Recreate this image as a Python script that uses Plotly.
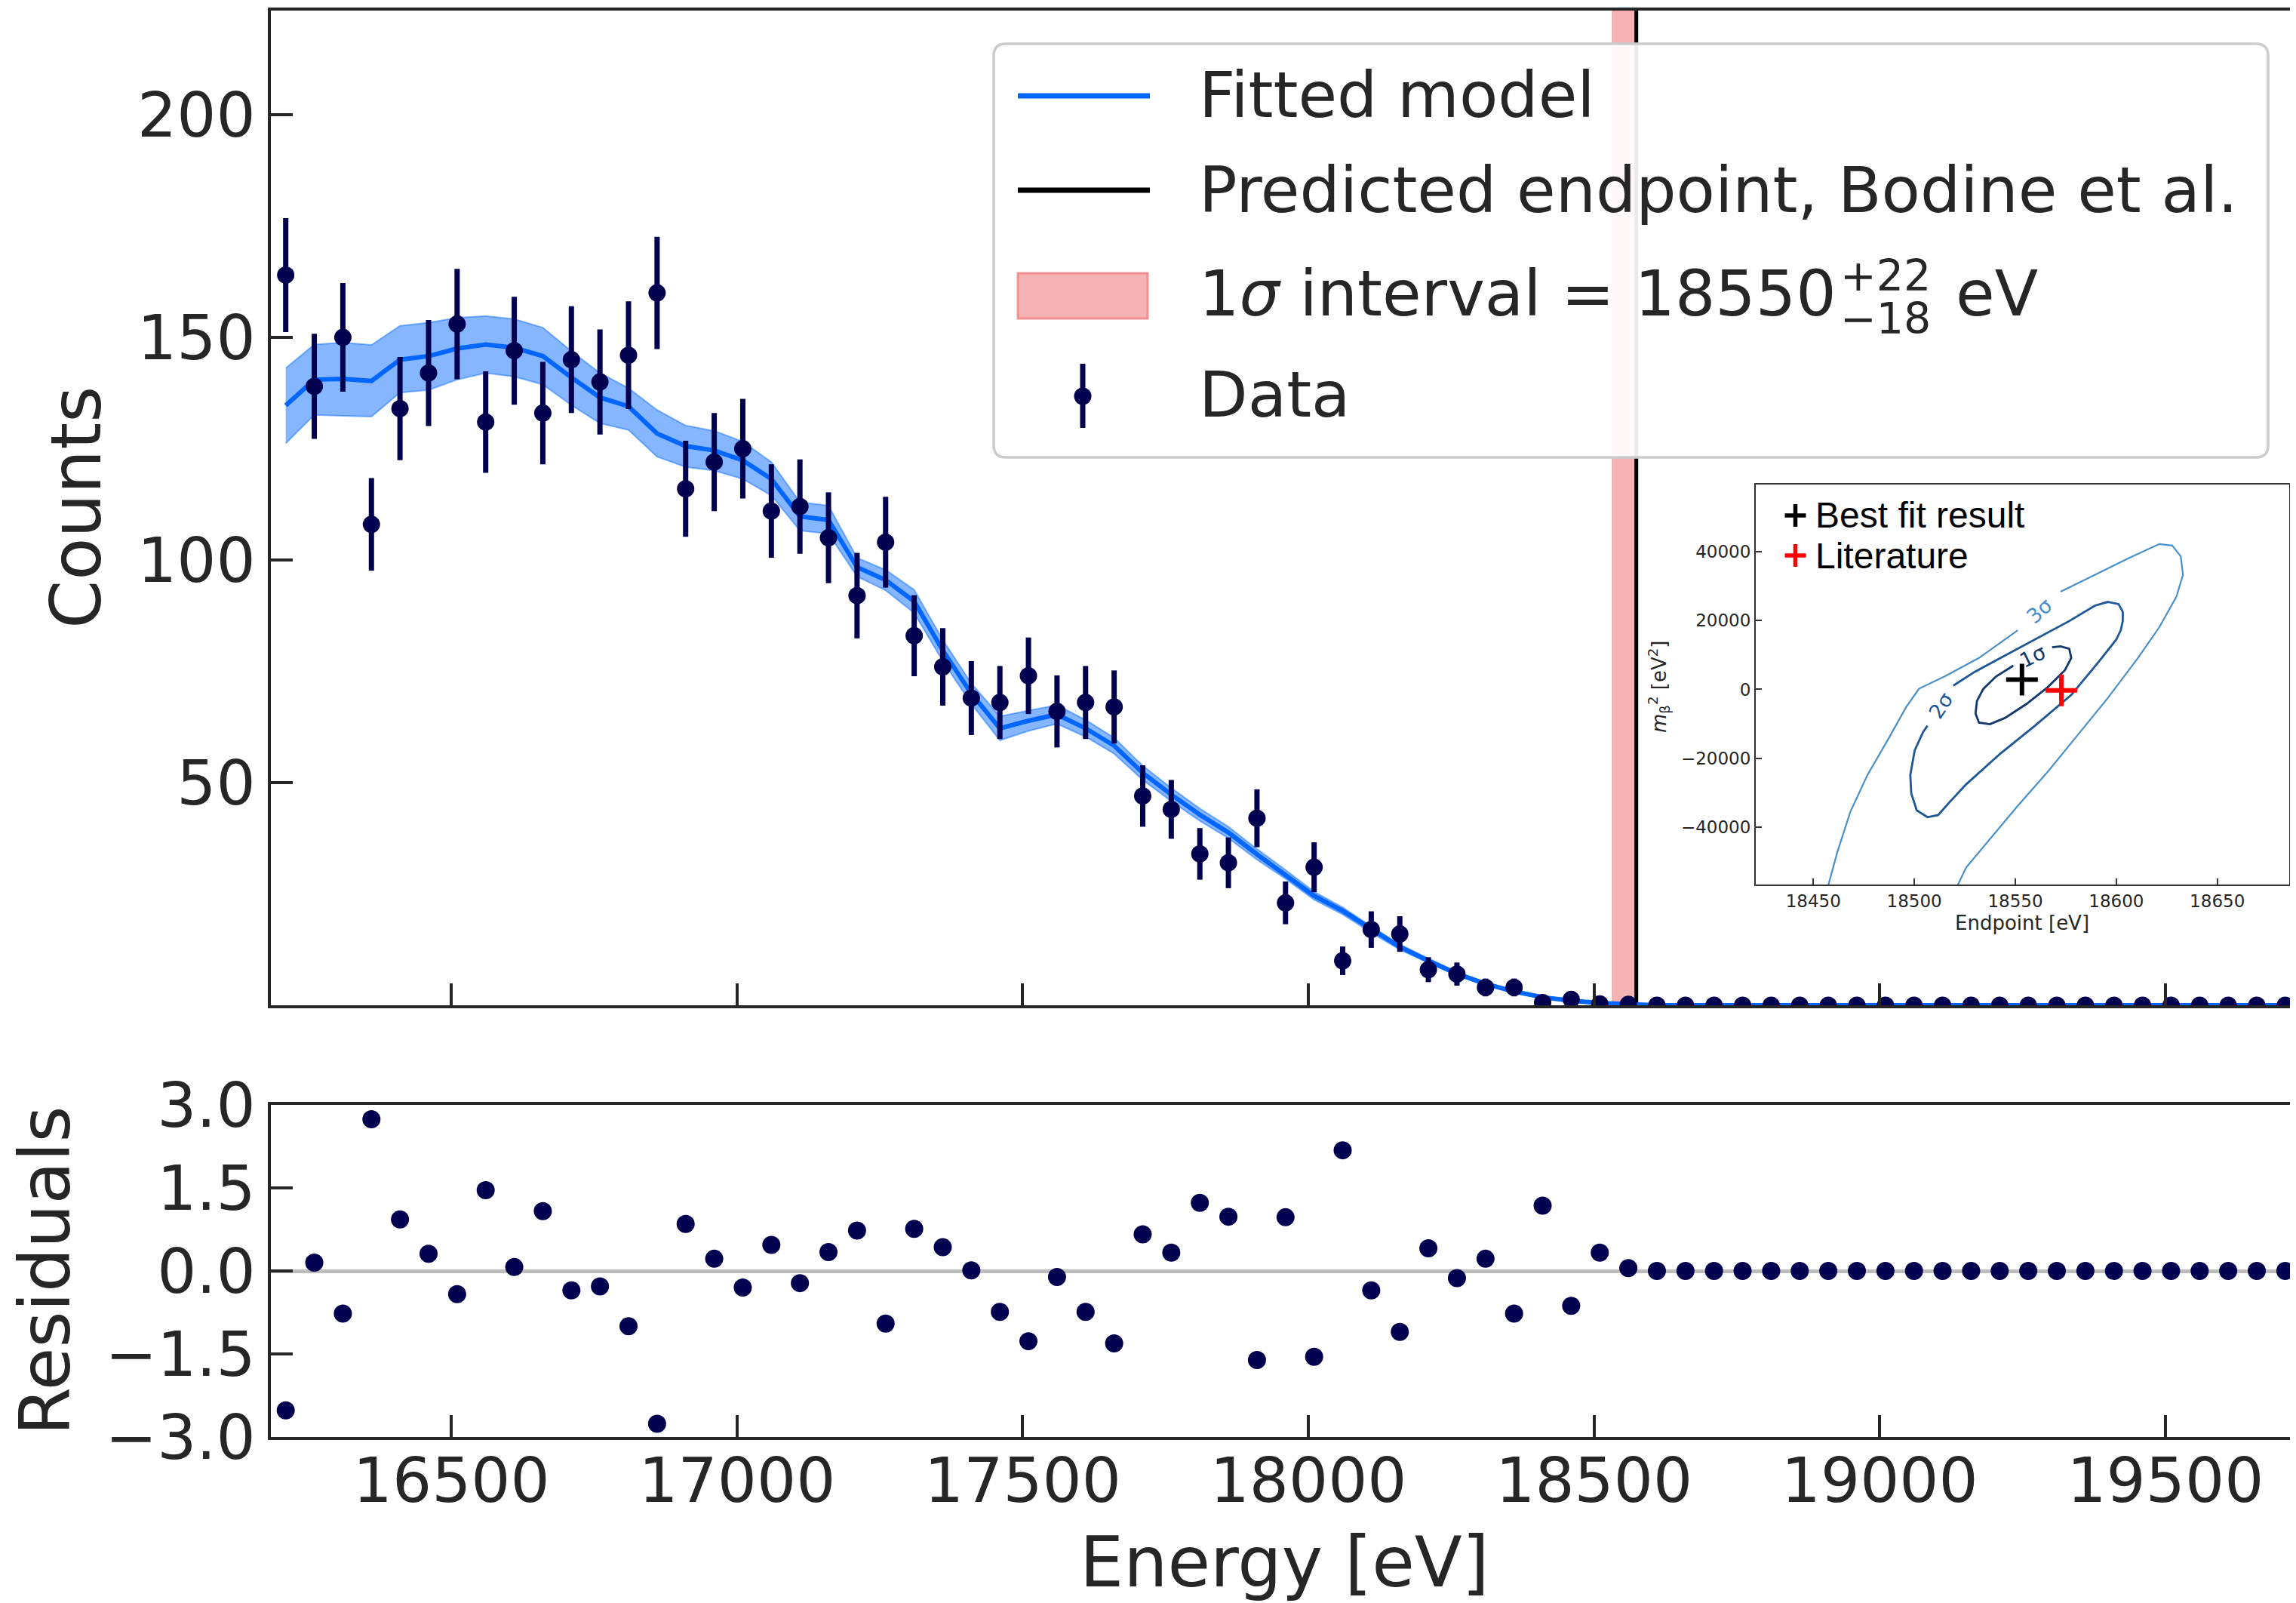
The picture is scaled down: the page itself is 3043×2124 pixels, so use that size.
import plotly.graph_objects as go

# ---------------- data ----------------
energy = [16210, 16260, 16310, 16360, 16410, 16460, 16510, 16560, 16610, 16660,
          16710, 16760, 16810, 16860, 16910, 16960, 17010, 17060, 17110, 17160,
          17210, 17260, 17310, 17360, 17410, 17460, 17510, 17560, 17610, 17660,
          17710, 17760, 17810, 17860, 17910, 17960, 18010, 18060, 18110, 18160,
          18210, 18260, 18310, 18360, 18410, 18460, 18510, 18560, 18610, 18660,
          18710, 18760, 18810, 18860, 18910, 18960, 19010, 19060, 19110, 19160,
          19210, 19260, 19310, 19360, 19410, 19460, 19510, 19560, 19610, 19660,
          19710]

counts = [164, 139, 150, 108, 134, 142, 153, 131, 147, 133,
          145, 140, 146, 160, 116, 122, 125, 111, 112, 105,
          92, 104, 83, 76, 69, 68, 74, 66, 68, 67,
          47, 44, 34, 32, 42, 23, 31, 10, 17, 16,
          8, 7, 4, 4, 0.6, 1.3, 0.3, 0.2, 0, 0,
          0, 0, 0, 0, 0, 0, 0, 0, 0, 0,
          0, 0, 0, 0, 0, 0, 0, 0, 0, 0,
          0]

count_err = [12.8, 11.8, 12.2, 10.4, 11.6, 11.9, 12.4, 11.4, 12.1, 11.5,
             12.0, 11.8, 12.1, 12.6, 10.8, 11.0, 11.2, 10.5, 10.6, 10.2,
             9.6, 10.2, 9.1, 8.7, 8.3, 8.2, 8.6, 8.1, 8.2, 8.2,
             6.9, 6.6, 5.8, 5.7, 6.5, 4.8, 5.6, 3.2, 4.1, 4.0,
             2.8, 2.6, 2.0, 2.0, 0.8, 1.1, 0.5, 0.4, 0, 0,
             0, 0, 0, 0, 0, 0, 0, 0, 0, 0,
             0, 0, 0, 0, 0, 0, 0, 0, 0, 0,
             0]

model = [134.7, 140.5, 140.7, 140.2, 145.0, 145.8, 147.5, 148.4, 147.7, 145.8,
         141.0, 136.5, 134.5, 128.4, 125.6, 124.6, 122.4, 118.2, 109.8, 109.0,
         98.4, 95.5, 90.7, 79.7, 70.0, 62.2, 63.9, 65.3, 62.2, 58.3,
         52.2, 47.3, 42.8, 38.8, 33.9, 29.4, 24.6, 21.2, 17.0, 13.1,
         10.0, 7.1, 4.8, 3.1, 1.8, 1.0, 0.5, 0.15, 0, 0,
         0, 0, 0, 0, 0, 0, 0, 0, 0, 0,
         0, 0, 0, 0, 0, 0, 0, 0, 0, 0,
         0]

model_lo = [126.2, 132.6, 132.4, 132.2, 137.6, 138.2, 140.5, 142.0, 141.2, 139.4,
            134.8, 130.7, 129.2, 123.2, 120.9, 120.1, 118.2, 114.5, 106.6, 105.9,
            96.3, 93.2, 88.1, 77.3, 67.7, 59.5, 61.6, 63.2, 60.3, 56.5,
            50.6, 45.8, 41.4, 37.5, 32.7, 28.4, 23.7, 20.4, 16.3, 12.5,
            9.5, 6.7, 4.5, 2.9, 1.7, 0.9, 0.45, 0.1, 0, 0,
            0, 0, 0, 0, 0, 0, 0, 0, 0, 0,
            0, 0, 0, 0, 0, 0, 0, 0, 0, 0,
            0]

model_hi = [143.1, 148.4, 148.8, 148.3, 152.6, 153.3, 154.4, 154.8, 154.1, 152.2,
            146.9, 142.0, 138.6, 133.7, 130.2, 129.0, 126.6, 122.0, 113.0, 112.2,
            100.5, 97.8, 93.3, 82.1, 72.3, 64.9, 66.2, 67.4, 64.1, 60.1,
            53.8, 48.8, 44.2, 40.1, 35.1, 30.4, 25.5, 22.0, 17.7, 13.7,
            10.5, 7.5, 5.1, 3.3, 1.9, 1.1, 0.55, 0.2, 0, 0,
            0, 0, 0, 0, 0, 0, 0, 0, 0, 0,
            0, 0, 0, 0, 0, 0, 0, 0, 0, 0,
            0]

residuals = [-2.52, 0.15, -0.77, 2.74, 0.93, 0.31, -0.42, 1.46, 0.07, 1.08,
             -0.35, -0.28, -1.00, -2.76, 0.85, 0.22, -0.30, 0.47, -0.22, 0.34,
             0.73, -0.95, 0.76, 0.43, 0.01, -0.74, -1.27, -0.11, -0.74, -1.31,
             0.66, 0.33, 1.23, 0.98, -1.61, 0.97, -1.55, 2.18, -0.35, -1.10,
             0.41, -0.13, 0.22, -0.77, 1.18, -0.63, 0.33, 0.05, 0, 0,
             0, 0, 0, 0, 0, 0, 0, 0, 0, 0,
             0, 0, 0, 0, 0, 0, 0, 0, 0, 0,
             0]

fit_endpoint = 18550
fit_err_lo = 18
fit_err_hi = 22
predicted_endpoint = 18574

x_ticks = [16500, 17000, 17500, 18000, 18500, 19000, 19500]
count_ticks = [50, 100, 150, 200]
resid_ticks = [-3.0, -1.5, 0.0, 1.5, 3.0]

# inset: confidence contours (endpoint [eV], m_beta^2 [eV^2]); None = label gap
c1_E = [18568.2, 18572.4, 18576.7, 18577.7, 18574.5, 18566.0, 18555.4, 18544.8, 18537.4,
        18532.0, 18530.3, 18531.0, 18534.2, 18540.5, 18549.0]
c1_m = [12274, 12543, 11826, 9138, 5554, 627, -4300, -8332, -10124,
        -9676, -6988, -3404, 179, 3763, 6898]
c2_E = [18519.3, 18529.9, 18542.7, 18559.7, 18576.7, 18589.4, 18595.8, 18601.1, 18603.2,
        18603.2, 18602.2, 18600.0, 18591.6, 18577.7, 18559.7, 18542.7, 18525.7, 18517.2,
        18511.8, 18506.5, 18501.2, 18498.5, 18498.0, 18500.2, 18504.4, 18506.5]
c2_m = [1075, 5107, 9138, 14514, 19889, 24368, 25444, 24816, 22577,
        19889, 17201, 14514, 8242, -1613, -10572, -18635, -27594, -32969,
        -36553, -37180, -35209, -30281, -24906, -17739, -12363, -10572]
c3_E = [18456.0, 18461.9, 18468.3, 18476.8, 18487.4, 18495.9, 18502.3, 18515.0, 18532.0,
        18551.2, None, 18572.4, 18589.4, 18606.4, 18621.3, 18627.7, 18631.9, 18633.0,
        18629.8, 18621.3, 18610.7, 18595.8, 18580.9, 18566.0, 18551.2, 18538.4, 18525.7,
        18519.0]
c3_m = [-60000, -47304, -35657, -24906, -14155, -5196, 179, 3763, 9138,
        17201, None, 28399, 33327, 38254, 42286, 41839, 38703, 33327,
        27056, 18097, 9138, -2509, -13259, -24010, -33865, -42824, -51783,
        -60000]
contour_labels = ["1σ", "2σ", "3σ"]
label_E = [18558.6, 18512.9, 18561.8]
label_m = [9586, -4748, 22756]
label_angle = [-26, -57, -42]
best_fit = (18553.3, 2867)
literature = (18572.8, -269)
inset_x_ticks = [18450, 18500, 18550, 18600, 18650]
inset_y_ticks = [-40000, -20000, 0, 20000, 40000]

# ---------------- layout helpers ----------------
# page is rendered with an 8 px body margin; figure sized to fit the window
OFF = 8
W, H = 3043 - OFF, 2124 - OFF
# plot area in page pixels: left 359, right 3041, top 14, bottom 1904
PL, PR, PT, PB = 359, 3041, 14, 1904
ML, MT = PL - OFF, PT - OFF
MR = W - (PR - OFF)
MB = H - (PB - OFF)
PW = PR - PL
PH = PB - PT


def px(x):
    return (x - PL) / PW


def py(y):
    return (PB - y) / PH


TXT = "#262626"
NAVY = "#00004f"
BLUE = "#0066ff"
FONT = "DejaVu Sans"

fig = go.Figure()

# model band
fig.add_trace(go.Scatter(x=energy, y=model_hi, mode="lines",
                         line=dict(color="rgba(0,102,255,0.45)", width=2),
                         hoverinfo="skip", xaxis="x", yaxis="y"))
fig.add_trace(go.Scatter(x=energy, y=model_lo, mode="lines", fill="tonexty",
                         fillcolor="rgba(0,102,255,0.48)",
                         line=dict(color="rgba(0,102,255,0.45)", width=2),
                         hoverinfo="skip", xaxis="x", yaxis="y"))
# model line
fig.add_trace(go.Scatter(x=energy, y=model, mode="lines",
                         line=dict(color=BLUE, width=6), xaxis="x", yaxis="y"))
# data
fig.add_trace(go.Scatter(x=energy, y=counts, mode="markers",
                         marker=dict(color=NAVY, size=23),
                         error_y=dict(type="data", array=count_err, color=NAVY,
                                      thickness=7, width=0),
                         xaxis="x", yaxis="y"))
# residuals
fig.add_trace(go.Scatter(x=energy, y=residuals, mode="markers",
                         marker=dict(color=NAVY, size=24), xaxis="x2", yaxis="y2"))

# inset contours
fig.add_trace(go.Scatter(x=c3_E, y=c3_m, mode="lines", connectgaps=False,
                         line=dict(color="#4a90c8", width=2.2), xaxis="x3", yaxis="y3"))
fig.add_trace(go.Scatter(x=c2_E, y=c2_m, mode="lines",
                         line=dict(color="#1d5796", width=2.8), xaxis="x3", yaxis="y3"))
fig.add_trace(go.Scatter(x=c1_E, y=c1_m, mode="lines",
                         line=dict(color="#12386e", width=2.8), xaxis="x3", yaxis="y3"))
fig.add_trace(go.Scatter(x=[best_fit[0]], y=[best_fit[1]], mode="markers",
                         marker=dict(symbol="cross-thin", size=30,
                                     line=dict(color="black", width=6)),
                         xaxis="x3", yaxis="y3"))
fig.add_trace(go.Scatter(x=[literature[0]], y=[literature[1]], mode="markers",
                         marker=dict(symbol="cross-thin", size=30,
                                     line=dict(color="#ff0000", width=6)),
                         xaxis="x3", yaxis="y3"))

shapes = []
# 1 sigma interval band and predicted endpoint
shapes.append(dict(type="rect", xref="x", yref="y domain",
                   x0=fit_endpoint - fit_err_lo, x1=fit_endpoint + fit_err_hi, y0=0, y1=1,
                   fillcolor="rgba(240,128,128,0.6)",
                   line=dict(color="rgba(240,128,128,0.7)", width=1), layer="below"))
shapes.append(dict(type="line", xref="x", yref="y domain",
                   x0=predicted_endpoint, x1=predicted_endpoint, y0=0, y1=1,
                   line=dict(color="black", width=5), layer="below"))

# legend box (rounded)
lx0, lx1, ly0, ly1, rr = 1317, 3006, 58, 606, 16
X0, X1 = px(lx0), px(lx1)
Yt, Yb = py(ly0), py(ly1)
rx, ry = rr / PW, rr / PH
path = (f"M {X0+rx},{Yt} L {X1-rx},{Yt} Q {X1},{Yt} {X1},{Yt-ry} "
        f"L {X1},{Yb+ry} Q {X1},{Yb} {X1-rx},{Yb} L {X0+rx},{Yb} "
        f"Q {X0},{Yb} {X0},{Yb+ry} L {X0},{Yt-ry} Q {X0},{Yt} {X0+rx},{Yt} Z")
shapes.append(dict(type="path", xref="paper", yref="paper", path=path,
                   fillcolor="rgba(255,255,255,0.92)",
                   line=dict(color="#cccccc", width=3.5), layer="above"))
# legend handles
shapes.append(dict(type="line", xref="paper", yref="paper", x0=px(1349), x1=px(1524),
                   y0=py(127), y1=py(127), line=dict(color=BLUE, width=7), layer="above"))
shapes.append(dict(type="line", xref="paper", yref="paper", x0=px(1349), x1=px(1524),
                   y0=py(252), y1=py(252), line=dict(color="black", width=7), layer="above"))
shapes.append(dict(type="rect", xref="paper", yref="paper", x0=px(1349), x1=px(1521),
                   y0=py(422), y1=py(362), fillcolor="rgba(240,128,128,0.6)",
                   line=dict(color="rgba(240,128,128,0.8)", width=3), layer="above"))
shapes.append(dict(type="line", xref="paper", yref="paper", x0=px(1435), x1=px(1435),
                   y0=py(567), y1=py(482), line=dict(color=NAVY, width=7), layer="above"))
shapes.append(dict(type="circle", xref="paper", yref="paper", x0=px(1423.5), x1=px(1446.5),
                   y0=py(536.5), y1=py(513.5), fillcolor=NAVY,
                   line=dict(color=NAVY, width=0), layer="above"))
# inset legend plus signs
for cx, cy, col in [(2379.5, 683, "black"), (2379.5, 736, "#ff0000")]:
    shapes.append(dict(type="line", xref="paper", yref="paper", x0=px(cx - 14), x1=px(cx + 14),
                       y0=py(cy), y1=py(cy), line=dict(color=col, width=5.5), layer="above"))
    shapes.append(dict(type="line", xref="paper", yref="paper", x0=px(cx), x1=px(cx),
                       y0=py(cy - 15), y1=py(cy + 15), line=dict(color=col, width=5.5), layer="above"))

annotations = []


def ann(text, x, y, size, xanchor="left", yanchor="middle", color=TXT, angle=0, family=FONT):
    annotations.append(dict(text=text, x=px(x), y=py(y), xref="paper", yref="paper",
                            xanchor=xanchor, yanchor=yanchor, showarrow=False,
                            textangle=angle, font=dict(size=size, color=color, family=family)))


LEG = 84
LX = 1587
ann("Fitted model", LX, 126, LEG)
ann("Predicted endpoint, Bodine et al.", LX, 252, LEG)
ann("1<i>σ</i> interval = " + str(fit_endpoint), LX, 389, LEG)
ann("+" + str(fit_err_hi), 2437, 365, 57)
ann("−" + str(fit_err_lo), 2437, 422, 57)
ann("eV", 2590, 389, LEG)
ann("Data", LX, 523, LEG)

# axis titles
ann("Counts", 101, 673, 92, xanchor="center", angle=-90)
ann("Residuals", 60, 1684, 92, xanchor="center", angle=-90)
ann("Energy [eV]", 1702, 2070, 92, xanchor="center")

# inset texts
ann("Best fit result", 2404, 683, 48, color="black", family="Liberation Sans")
ann("Literature", 2404, 736, 48, color="black", family="Liberation Sans")
ann("Endpoint [eV]", 2680, 1223, 26, xanchor="center")
ann("<i>m</i><sub>β</sub><sup>2</sup> [eV<sup>2</sup>]", 2198, 910, 26, xanchor="center", angle=-90)

label_cols = ["#12386e", "#1d5796", "#4a90c8"]
for t, e, m, a, c in zip(contour_labels, label_E, label_m, label_angle, label_cols):
    annotations.append(dict(text=t, x=e, y=m, xref="x3", yref="y3", showarrow=False,
                            textangle=a, font=dict(size=27, color=c, family=FONT)))

axis_common = dict(showgrid=False, showline=True, mirror=True, linecolor=TXT, linewidth=4,
                   ticks="inside", ticklen=29, tickwidth=3.5, tickcolor=TXT, automargin=False,
                   tickfont=dict(size=82, color=TXT, family=FONT))
inset_common = dict(showgrid=False, zeroline=False, showline=True, mirror=True,
                    linecolor="#333333", linewidth=2, ticks="inside", ticklen=8,
                    tickwidth=1.5, tickcolor="#333333", automargin=False, tickformat="d",
                    tickfont=dict(size=23, color=TXT, family=FONT))

fig.update_layout(
    width=W, height=H,
    margin=dict(l=ML, r=MR, t=MT, b=MB, autoexpand=False),
    paper_bgcolor="white", plot_bgcolor="white",
    showlegend=False,
    font=dict(family=FONT, color=TXT),
    xaxis=dict(domain=[0, 1], anchor="y", range=[16184, 19726], tickvals=x_ticks,
               showticklabels=False, zeroline=False, **axis_common),
    yaxis=dict(domain=[py(1332), 1], anchor="x", range=[0, 223.4], tickvals=count_ticks,
               zeroline=False, **axis_common),
    xaxis2=dict(domain=[0, 1], anchor="y2", matches="x", range=[16184, 19726],
                tickvals=x_ticks, tickformat="d", zeroline=False, ticklabelstandoff=-16,
                **axis_common),
    yaxis2=dict(domain=[0, py(1464)], anchor="x2", range=[-3, 3], tickvals=resid_ticks,
                tickformat=".1f", zeroline=True, zerolinecolor="#bdbdbd", zerolinewidth=5,
                **axis_common),
    xaxis3=dict(domain=[px(2327), px(3034)], anchor="y3", range=[18421.5, 18685.6],
                tickvals=inset_x_ticks, **inset_common),
    yaxis3=dict(domain=[py(1172), py(642)], anchor="x3", range=[-56770, 59600],
                tickvals=inset_y_ticks, **inset_common),
    shapes=shapes,
    annotations=annotations,
)

fig.write_html("out.html")
